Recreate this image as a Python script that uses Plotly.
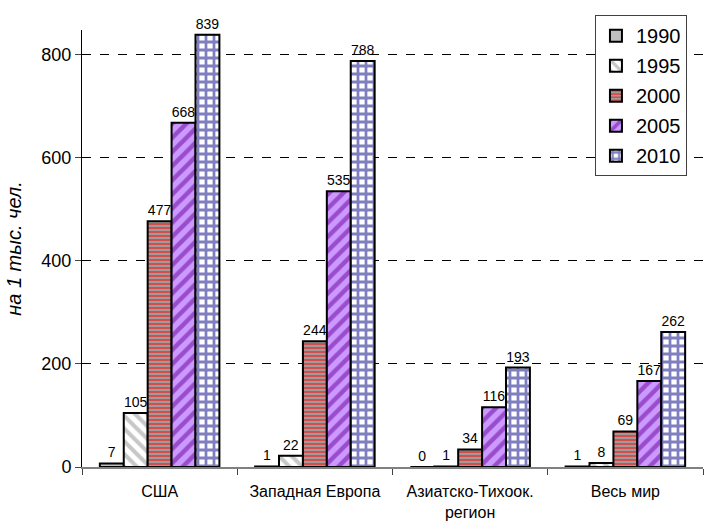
import plotly.graph_objects as go

regions = ["США", "Западная Европа", "Азиатско-Тихоок.<br>регион", "Весь мир"]
years = ["1990", "1995", "2000", "2005", "2010"]
v1990 = [7, 1, 0, 1]
v1995 = [105, 22, 1, 8]
v2000 = [477, 244, 34, 69]
v2005 = [668, 535, 116, 167]
v2010 = [839, 788, 193, 262]
series = [v1990, v1995, v2000, v2005, v2010]
y_ticks = [0, 200, 400, 600, 800]

styles = [
    dict(color="#c0c0c0", pattern=dict(shape="")),
    dict(color="#ffffff", pattern=dict(shape="\\", fgcolor="#909090", bgcolor="#ffffff",
                                       size=9, solidity=0.45, fillmode="overlay")),
    dict(color="#a0a0a0", pattern=dict(shape="-", fgcolor="#ff0000", bgcolor="#a0a0a0",
                                       size=4, solidity=0.55, fillmode="overlay")),
    dict(color="#cc99ff", pattern=dict(shape="/", fgcolor="#660099", bgcolor="#cc99ff",
                                       size=10, solidity=0.45, fillmode="overlay")),
    dict(color="#ffffff", pattern=dict(shape="+", fgcolor="#000080", bgcolor="#ffffff",
                                       size=8, solidity=0.57, fillmode="overlay")),
]

fig = go.Figure()
for name, vals, st in zip(years, series, styles):
    fig.add_trace(go.Bar(
        x=regions, y=vals, name=name, legendgroup=name,
        text=[str(v) for v in vals], textposition="outside",
        textfont=dict(size=14, color="black"),
        cliponaxis=False,
        marker=dict(color=st["color"], pattern=st["pattern"],
                    line=dict(color="black", width=2)),
    ))

fig.update_layout(
    width=704, height=528,
    margin=dict(l=82, r=1, t=30, b=61),
    paper_bgcolor="white", plot_bgcolor="white",
    font=dict(family="Liberation Sans, Arial, sans-serif", color="black"),
    barmode="group", bargap=0.23, bargroupgap=0,
    showlegend=True,
    legend=dict(x=0.826, y=1.034, xanchor="left", yanchor="top",
                bgcolor="white", bordercolor="#404040", borderwidth=1,
                font=dict(size=20), traceorder="grouped", tracegroupgap=1,
                itemwidth=30),
    xaxis=dict(showline=True, linecolor="#808080", linewidth=1.5,
               ticks="outside", tickson="boundaries", ticklen=6,
               tickcolor="#404040", tickfont=dict(size=16), showgrid=False,
               ticklabelstandoff=9),
    yaxis=dict(range=[0, 848], tickvals=y_ticks, showline=True,
               linecolor="black", linewidth=1, ticks="outside", ticklen=6,
               tickfont=dict(size=18), showgrid=True, gridcolor="black",
               griddash="dash", gridwidth=1, zeroline=False,
               title=dict(text="<i>на 1 тыс. чел.</i>", font=dict(size=20), standoff=14)),
)

fig.write_html("out.html")
